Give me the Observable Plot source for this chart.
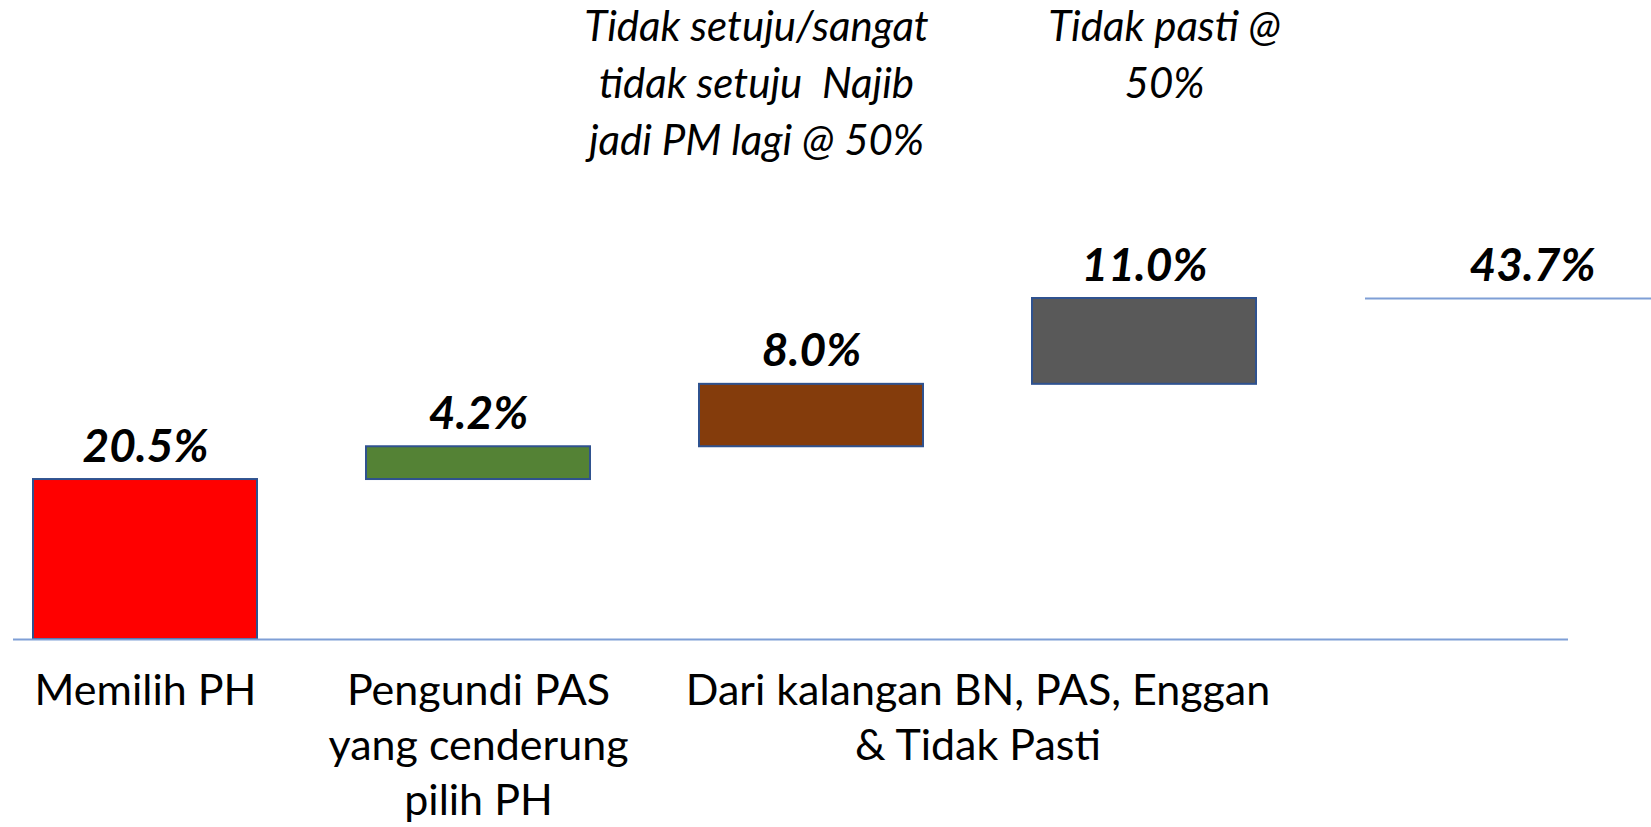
<!DOCTYPE html>
<html>
<head>
<meta charset="utf-8">
<script src="https://cdn.jsdelivr.net/npm/d3@7"></script>
<script src="https://cdn.jsdelivr.net/npm/@observablehq/plot@0.6"></script>
<style>
  html, body { margin: 0; padding: 0; background: #fff; }
  svg { display: block; }
</style>
</head>
<body>
<div id="chart"></div>
<script>
// ---- data ----
const categories = ["Memilih PH", "Pengundi PAS", "Tidak setuju Najib", "Tidak pasti", "Jumlah"];
const increments = [20.5, 4.2, 8.0, 11.0];
const total = 43.7;
const barColors = ["#FF0000", "#548235", "#843C0C", "#595959"];
const axisLabels = ["Memilih PH", "Pengundi PAS\nyang cenderung\npilih PH"];
const groupLabel = "Dari kalangan BN, PAS, Enggan\n& Tidak Pasti";
const notes = ["Tidak setuju/sangat\ntidak setuju  Najib\njadi PM lagi @ 50%", "Tidak pasti @\n50%"];

// waterfall table
const ends = Array.from(d3.cumsum(increments));
const bars = increments.map((v, i) => ({
  cat: categories[i], value: v, start: ends[i] - v, end: ends[i]
}));
const totals = [{cat: categories[4], value: total}];

const W = 1651, H = 827;
const step = 333;

const numFont = "Lato, 'Noto Sans', sans-serif";
const labFont = "Lato, 'Noto Sans', sans-serif";

const noteStyle = {
  frameAnchor: "top", lineAnchor: "top", dy: -298, lineHeight: 1.357,
  fontFamily: labFont, fontStyle: "italic", fontSize: 42, fill: "#000"
};

const chart = Plot.plot({
  width: W,
  height: H,
  marginTop: 298,
  marginBottom: 188,
  marginLeft: 16,
  marginRight: 45,
  x: {domain: categories, paddingInner: 0.327, paddingOuter: 0.05, axis: null},
  y: {domain: [0, total], axis: null},
  color: {domain: categories.slice(0, 4), range: barColors},
  marks: [
    Plot.barY(bars, {x: "cat", y1: "start", y2: "end", fill: "cat", stroke: "#2F528F", strokeWidth: 2}),
    Plot.ruleY([0], {stroke: "#7F9FD6", strokeWidth: 2, insetLeft: -3, insetRight: 38}),
    Plot.tickY(totals, {x: "cat", y: "value", stroke: "#7F9FD6", strokeWidth: 2, insetRight: -70}),
    Plot.text(bars, {
      x: "cat", y: "end", text: d => d.value.toFixed(1) + "%",
      lineAnchor: "bottom", dy: -18,
      fontFamily: numFont, fontWeight: "bold", fontStyle: "italic", fontSize: 46, fill: "#000"
    }),
    Plot.text(totals, {
      x: "cat", y: "value", text: d => d.value.toFixed(1) + "%",
      lineAnchor: "bottom", dy: -18, dx: 55,
      fontFamily: numFont, fontWeight: "bold", fontStyle: "italic", fontSize: 46, fill: "#000"
    }),
    Plot.text(axisLabels, {
      x: (d, i) => categories[i], frameAnchor: "bottom", text: d => d,
      lineAnchor: "top", dy: 26, lineHeight: 1.28,
      fontFamily: labFont, fontSize: 43, fill: "#000"
    }),
    Plot.text([groupLabel], {
      x: () => categories[2], frameAnchor: "bottom", text: d => d,
      lineAnchor: "top", dy: 26, dx: step / 2, lineHeight: 1.28,
      fontFamily: labFont, fontSize: 43, fill: "#000"
    }),
    Plot.text([notes[0]], {x: () => categories[2], text: d => d, dx: -55, ...noteStyle}),
    Plot.text([notes[1]], {x: () => categories[3], text: d => d, dx: 20, ...noteStyle})
  ]
});
document.getElementById("chart").appendChild(chart);
</script>
</body>
</html>
